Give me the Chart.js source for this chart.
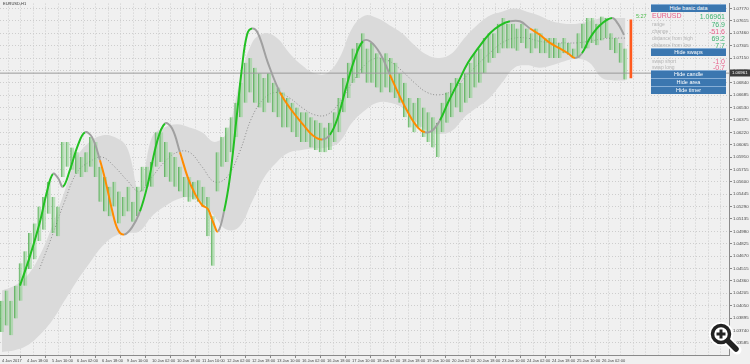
<!DOCTYPE html>
<html>
<head>
<meta charset="utf-8">
<title>EURUSD,H1</title>
<script src="https://cdn.jsdelivr.net/npm/chart.js@4.4.1/dist/chart.umd.min.js"></script>
<style>
  html, body { margin: 0; padding: 0; background: #f0f0f0; }
  #wrap { position: relative; width: 750px; height: 364px; overflow: hidden; font-family: "Liberation Sans", Arial, sans-serif; }
  #chart { position: absolute; left: 0; top: 0; }
  .sym { position: absolute; left: 3px; top: 1px; font-size: 4px; color: #333; }
  .btn { position: absolute; left: 651px; width: 75px; height: 8px; box-sizing: border-box; background: #3b77b0; border-top: 1px solid #86aed6; color: #fff; font-size: 5.5px; line-height: 7px; text-align: center; }
  .row { position: absolute; left: 652px; width: 73px; height: 7px; }
  .row .k { position: absolute; left: 0; bottom: 0; font-size: 5px; color: #b4b4b4; }
  .row .v { position: absolute; right: 0; bottom: -1px; font-size: 7px; }
  .up { color: #3cb371; }
  .dn { color: #e8608c; }
</style>
</head>
<body>
<div id="wrap">
  <canvas id="chart" width="750" height="364"></canvas>
  <div class="sym">EURUSD,H1</div>

  <div class="btn" style="top:4px">Hide basic data</div>
  <div class="row" style="top:12px"><span class="k dn" style="font-size:7px;color:#e8608c">EURUSD</span><span class="v up">1.06961</span></div>
  <div class="row" style="top:20px"><span class="k">range</span><span class="v up">76.9</span></div>
  <div class="row" style="top:27px"><span class="k">change</span><span class="v dn">-51.6</span></div>
  <div class="row" style="top:34px"><span class="k">distance from high</span><span class="v up">69.2</span></div>
  <div class="row" style="top:41px"><span class="k">distance from low</span><span class="v up">7.7</span></div>
  <div class="btn" style="top:48px">Hide swaps</div>
  <div class="row" style="top:57px"><span class="k">swap short</span><span class="v dn">-1.0</span></div>
  <div class="row" style="top:63px"><span class="k">swap long</span><span class="v dn">-0.7</span></div>
  <div class="btn" style="top:70px">Hide candle</div>
  <div class="btn" style="top:78px">Hide area</div>
  <div class="btn" style="top:86px">Hide timer</div>

  <svg style="position:absolute;left:705px;top:318px" width="40" height="40">
    <g stroke="#fff" stroke-linecap="round" fill="none">
      <circle cx="16" cy="16" r="8.5" stroke-width="7"/>
      <path d="M23 23l9 9" stroke-width="9"/>
    </g>
    <circle cx="16" cy="16" r="8.5" fill="#fff" stroke="#222" stroke-width="3.5"/>
    <path d="M11.5 16h9M16 11.5v9" stroke="#222" stroke-width="3"/>
    <path d="M23 23l8 8" stroke="#222" stroke-width="5.5" stroke-linecap="round"/>
  </svg>
</div>

<script>
// hour index of each x-axis tick label (H1 bars)
var labelHours = [0, 16, 32, 48, 64, 80, 96, 112, 128, 144, 160, 176, 192,
    208, 224, 240, 256, 272, 288, 304, 320, 336, 352, 368, 384];
var timeLabels = ["4 Jan 2017", "4 Jan 18:00", "5 Jan 10:00", "6 Jan 02:00",
    "6 Jan 18:00", "9 Jan 10:00", "10 Jan 02:00", "10 Jan 18:00", "11 Jan 10:00",
    "12 Jan 02:00", "12 Jan 18:00", "13 Jan 10:00", "16 Jan 02:00", "16 Jan 18:00",
    "17 Jan 10:00", "18 Jan 02:00", "18 Jan 18:00", "19 Jan 10:00", "20 Jan 02:00",
    "20 Jan 18:00", "23 Jan 10:00", "24 Jan 02:00", "24 Jan 18:00", "25 Jan 10:00",
    "26 Jan 02:00"];
var priceTicks = [1.03585, 1.03740, 1.03895, 1.04050, 1.04205, 1.04360, 1.04515,
    1.04670, 1.04825, 1.04980, 1.05135, 1.05290, 1.05445, 1.05600, 1.05755,
    1.05910, 1.06065, 1.06220, 1.06375, 1.06530, 1.06685, 1.06840, 1.06995,
    1.07150, 1.07305, 1.07460, 1.07615, 1.07770];

// price bars, one every 3 hours (low / high)
var candleHigh = [1.0411,1.0424,1.0411,1.0430,1.0458,1.0473,1.0496,1.0508,1.0529,1.0541,
    1.0560,1.0541,1.0529,1.0610,1.0610,1.0603,1.0597,1.0591,1.0597,1.0616,
    1.0610,1.0579,1.0566,1.0554,1.0560,1.0548,1.0541,1.0554,1.0535,1.0554,
    1.0579,1.0579,1.0585,1.0622,1.0622,1.0610,1.0597,1.0591,1.0579,1.0566,
    1.0566,1.0560,1.0562,1.0554,1.0541,1.0517,1.0597,1.0616,1.0628,1.0641,
    1.0659,1.0684,1.0709,1.0715,1.0703,1.0696,1.0690,1.0696,1.0684,1.0678,
    1.0672,1.0665,1.0659,1.0653,1.0647,1.0647,1.0641,1.0637,1.0634,1.0628,
    1.0634,1.0647,1.0665,1.0690,1.0709,1.0727,1.0734,1.0746,1.0727,1.0734,
    1.0721,1.0715,1.0721,1.0715,1.0709,1.0696,1.0684,1.0665,1.0659,1.0665,
    1.0653,1.0647,1.0641,1.0634,1.0659,1.0672,1.0684,1.0690,1.0684,1.0696,
    1.0709,1.0721,1.0727,1.0740,1.0746,1.0746,1.0758,1.0765,1.0758,1.0758,
    1.0752,1.0758,1.0752,1.0746,1.0752,1.0746,1.0740,1.0740,1.0740,1.0734,
    1.0740,1.0734,1.0727,1.0746,1.0758,1.0765,1.0765,1.0758,1.0767,1.0765,
    1.0746,1.0740,1.0734,1.0727];
var candleLow = [1.0372,1.0380,1.0368,1.0389,1.0411,1.0430,1.0451,1.0463,1.0486,1.0500,
    1.0520,1.0496,1.0492,1.0566,1.0579,1.0575,1.0570,1.0566,1.0572,1.0579,
    1.0566,1.0535,1.0523,1.0517,1.0529,1.0508,1.0517,1.0523,1.0510,1.0517,
    1.0548,1.0554,1.0554,1.0579,1.0585,1.0566,1.0560,1.0554,1.0548,1.0541,
    1.0535,1.0538,1.0535,1.0529,1.0492,1.0455,1.0548,1.0579,1.0585,1.0597,
    1.0616,1.0641,1.0659,1.0672,1.0659,1.0653,1.0647,1.0659,1.0647,1.0641,
    1.0628,1.0628,1.0622,1.0616,1.0610,1.0610,1.0603,1.0600,1.0597,1.0597,
    1.0600,1.0610,1.0622,1.0647,1.0665,1.0684,1.0690,1.0696,1.0684,1.0684,
    1.0678,1.0672,1.0678,1.0672,1.0665,1.0659,1.0641,1.0628,1.0622,1.0628,
    1.0616,1.0610,1.0603,1.0591,1.0622,1.0634,1.0641,1.0653,1.0647,1.0659,
    1.0665,1.0678,1.0684,1.0696,1.0709,1.0715,1.0721,1.0727,1.0727,1.0727,
    1.0724,1.0734,1.0727,1.0721,1.0727,1.0721,1.0721,1.0715,1.0715,1.0715,
    1.0721,1.0719,1.0715,1.0715,1.0727,1.0727,1.0734,1.0731,1.0737,1.0740,
    1.0725,1.0721,1.0709,1.0688];

// grey area (upper / lower edge) and its dotted middle line, every 8 hours
var bandHours = [0,8,16,24,32,40,48,56,64,72,80,88,96,104,112,120,128,136,144,152,
    160,168,176,184,192,200,208,216,224,232,240,248,256,264,272,280,288,296,304,312,
    320,328,336,344,352,360,368,376,384,392,399];
var bandUpper = [1.0424,1.0430,1.0442,1.0467,1.0504,1.0548,1.0591,1.0610,1.0618,1.0616,
    1.0603,1.0548,1.0616,1.0628,1.0632,1.0628,1.0622,1.0610,1.0622,1.0684,
    1.0734,1.0746,1.0740,1.0721,1.0706,1.0696,1.0696,1.0715,1.0752,1.0768,
    1.0765,1.0756,1.0746,1.0731,1.0719,1.0715,1.0721,1.0740,1.0756,1.0768,
    1.0773,1.0777,1.0773,1.0768,1.0761,1.0758,1.0758,1.0761,1.0765,1.0765,1.0765];
var bandLower = [1.0347,1.0349,1.0355,1.0368,1.0386,1.0411,1.0436,1.0458,1.0479,1.0492,
    1.0496,1.0498,1.0517,1.0529,1.0538,1.0541,1.0535,1.0517,1.0500,1.0504,
    1.0535,1.0566,1.0585,1.0597,1.0600,1.0602,1.0603,1.0610,1.0634,1.0649,
    1.0659,1.0659,1.0653,1.0637,1.0624,1.0620,1.0624,1.0641,1.0653,1.0665,
    1.0684,1.0703,1.0706,1.0703,1.0706,1.0711,1.0714,1.0709,1.0690,1.0687,1.0687];
var bandMiddle = [null,null,null,1.0451,1.0492,1.0535,1.0572,1.0585,1.0591,1.0579,
    1.0562,1.0548,1.0566,1.0585,1.0597,1.0597,1.0579,1.0560,1.0566,1.0597,
    1.0641,1.0665,1.0672,1.0665,1.0653,1.0644,1.0644,1.0659,1.0684,1.0706,
    1.0715,1.0711,1.0699,1.0684,1.0672,1.0669,1.0674,1.0690,1.0706,1.0721,
    1.0734,1.0740,1.0740,1.0736,1.0734,1.0734,1.0734,1.0736,1.0739,1.0740,1.0740];

// smooth trend line; state: u = rising (green), d = falling (orange), n = turning (grey)
var trendHours = [11.5,17.9,24.3,28.8,32.6,35.8,39.0,43.5,48.6,53.1,57.6,62.7,66.6,70.4,
    74.2,78.1,83.2,88.3,93.4,99.2,104.3,108.8,113.9,119.0,123.5,128.0,131.8,135.0,138.2,
    142.1,145.9,149.8,153.6,156.8,160.0,163.8,170.2,177.9,185.6,192.6,199.0,204.8,209.9,
    215.0,220.2,225.9,231.0,235.5,241.9,248.3,253.4,259.8,266.2,270.7,275.2,280.3,285.4,
    291.8,298.2,304.6,312.3,318.7,325.1,331.5,337.9,344.3,350.7,357.1,362.2,366.7,371.2,
    376.3,382.7,390.4,394.2,398.1];
var trendValues = [1.0430,1.0467,1.0510,1.0548,1.0570,1.0565,1.0554,1.0575,1.0606,1.0622,
    1.0616,1.0587,1.0558,1.0525,1.0500,1.0494,1.0503,1.0523,1.0558,1.0610,1.0633,
    1.0627,1.0597,1.0565,1.0545,1.0531,1.0526,1.0510,1.0498,1.0523,1.0566,1.0634,
    1.0703,1.0744,1.0752,1.0746,1.0709,1.0672,1.0649,1.0632,1.0618,1.0613,1.0619,
    1.0641,1.0678,1.0715,1.0736,1.0736,1.0721,1.0694,1.0672,1.0647,1.0628,1.0622,
    1.0624,1.0637,1.0659,1.0684,1.0709,1.0727,1.0746,1.0756,1.0761,1.0761,1.0752,
    1.0744,1.0734,1.0727,1.0721,1.0715,1.0721,1.0740,1.0756,1.0765,1.0758,1.0744];
var trendState = ["u","u","u","u","n","n","u","u","u","n","n","d","d","d","d","n","n",
    "u","u","u","n","n","d","d","d","d","d","d","n","u","u","u","u","u","n","n","n",
    "d","d","d","d","n","u","u","u","u","n","n","n","d","d","d","d","n","n","u","u",
    "u","u","u","u","u","n","n","d","d","d","d","d","n","u","u","u","n","n","n"];

var lastPrice = 1.06961;
var timerHour = 402.5;
var timerRange = [1.0690, 1.0763];
var timerText = "5:27";

var stateColor = { u: "#22c022", d: "#ff8c00", n: "#a0a0a0" };

var gridHours = [];
for (var h = 0; h <= 464; h += 8) gridHours.push(h);

var overlay = {
    id: "overlay",
    afterDraw: function (chart) {
        var ctx = chart.ctx, x = chart.scales.x, y = chart.scales.y;
        var py = Math.round(y.getPixelForValue(lastPrice));
        ctx.save();
        ctx.fillStyle = "#3c3c3c";
        ctx.fillRect(y.left + 1, py - 3.5, 750 - y.left - 1, 7);
        ctx.fillStyle = "#ffffff";
        ctx.font = '4.3px "Liberation Sans"';
        ctx.textBaseline = "middle";
        ctx.fillText(lastPrice.toFixed(5), y.left + 3, py);
        ctx.fillStyle = "#4cbb4c";
        ctx.font = '5.5px "Liberation Sans"';
        ctx.textBaseline = "alphabetic";
        ctx.fillText(timerText, x.getPixelForValue(timerHour) + 5, y.getPixelForValue(timerRange[1]) - 2);
        ctx.restore();
    }
};

Chart.defaults.font.family = '"Liberation Sans", Arial, sans-serif';

new Chart(document.getElementById("chart"), {
    type: "bar",
    data: {
        datasets: [
            {
                type: "line", label: "upper", order: 6,
                data: bandHours.map(function (h, i) { return { x: h, y: bandUpper[i] }; }),
                borderWidth: 0, pointRadius: 0, tension: 0.4, fill: false
            },
            {
                type: "line", label: "lower", order: 5,
                data: bandHours.map(function (h, i) { return { x: h, y: bandLower[i] }; }),
                borderWidth: 0, pointRadius: 0, tension: 0.4,
                fill: "-1", backgroundColor: "#dadada"
            },
            {
                type: "line", label: "middle", order: 4,
                data: bandHours.map(function (h, i) { return { x: h, y: bandMiddle[i] }; }),
                borderWidth: 1, borderColor: "#8c8c8c", borderDash: [1, 2],
                pointRadius: 0, tension: 0.4
            },
            {
                type: "bar", label: "EURUSD", order: 3, grouped: false,
                data: candleLow.map(function (lo, i) { return { x: i * 3, y: [lo, candleHigh[i]] }; }),
                backgroundColor: "rgba(150,212,150,0.6)",
                borderColor: "rgba(70,165,70,0.75)",
                borderWidth: { left: 1, right: 0, top: 0, bottom: 0 },
                borderSkipped: false,
                barThickness: 3.6
            },
            {
                type: "line", label: "price", order: 2,
                data: [{ x: -2, y: lastPrice }, { x: 470, y: lastPrice }],
                borderWidth: 1, borderColor: "#9a9a9a", pointRadius: 0
            },
            {
                type: "line", label: "trend", order: 1,
                data: trendHours.map(function (h, i) { return { x: h, y: trendValues[i] }; }),
                borderWidth: 2, pointRadius: 0, tension: 0.4,
                segment: { borderColor: function (c) { return stateColor[trendState[c.p0DataIndex]]; } }
            },
            {
                type: "bar", label: "timer", order: 0, grouped: false,
                data: [{ x: timerHour, y: timerRange }],
                backgroundColor: "#ff5a1e", barThickness: 2
            }
        ]
    },
    options: {
        responsive: false,
        animation: false,
        devicePixelRatio: 1,
        layout: { padding: 0 },
        plugins: { legend: { display: false }, tooltip: { enabled: false } },
        scales: {
            x: {
                type: "linear", min: -1.28, max: 465.3, offset: false,
                afterBuildTicks: function (s) { s.ticks = gridHours.map(function (v) { return { value: v }; }); },
                afterFit: function (s) { s.height = 9; },
                ticks: {
                    autoSkip: false, maxRotation: 0, align: "start", padding: 0,
                    font: { size: 4 }, color: "#444",
                    callback: function (v) {
                        var k = labelHours.indexOf(v);
                        return k >= 0 ? timeLabels[k] : "";
                    }
                },
                grid: {
                    color: "#cdcdcd", tickLength: 3,
                    tickColor: function (c) { return c.tick && labelHours.indexOf(c.tick.value) >= 0 ? "#888" : "rgba(0,0,0,0)"; }
                },
                border: { color: "#8a8a8a", dash: [1, 2] }
            },
            y: {
                position: "right", min: 1.03432, max: 1.07832,
                afterBuildTicks: function (s) { s.ticks = priceTicks.map(function (v) { return { value: v }; }); },
                afterFit: function (s) { s.width = 21; },
                ticks: {
                    padding: 1, font: { size: 4.3 }, color: "#444",
                    callback: function (v) { return v.toFixed(5); }
                },
                grid: { color: "#cdcdcd", tickLength: 3, tickColor: "#888" },
                border: { color: "#8a8a8a", dash: [1, 2] }
            }
        }
    },
    plugins: [overlay]
});
</script>
</body>
</html>
